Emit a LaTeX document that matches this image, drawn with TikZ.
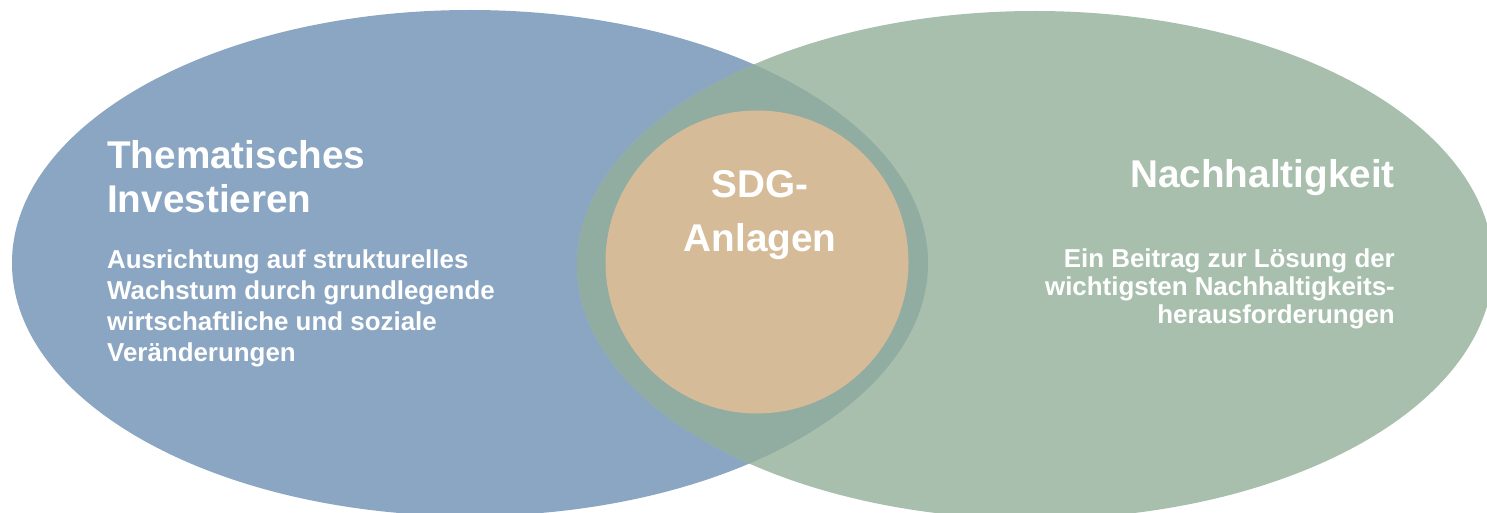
\documentclass[tikz,border=0pt]{standalone}
\usepackage{fontspec}
\setmainfont{Liberation Sans}
\definecolor{leftblue}{RGB}{138,166,194}
\definecolor{rightgreen}{RGB}{168,191,174}
\definecolor{overlapgreen}{RGB}{145,172,161}
\definecolor{tan}{RGB}{213,187,152}
\begin{document}
\begin{tikzpicture}[x=1pt,y=-1pt,
  titletext/.style={inner sep=0pt,text=white,font=\fontsize{38.7}{45}\selectfont\bfseries},
  bodytext/.style={inner sep=0pt,text=white},
]
\useasboundingbox (0,0) rectangle (1487,513);
\fill[leftblue] (470,263) ellipse [x radius=458, y radius=253];
\fill[rightgreen] (1035,265) ellipse [x radius=458, y radius=254];
\begin{scope}
  \clip (470,263) ellipse [x radius=458, y radius=253];
  \fill[overlapgreen] (1035,265) ellipse [x radius=458, y radius=254];
\end{scope}
\fill[tan] (757,262) circle [radius=151.5];

\node[titletext, anchor=base west] (t1) at (107,168) {Thematisches};
\node[titletext, anchor=base west] (t2) at (107,212) {Investieren};
\node[bodytext, anchor=base west] (b1) at (107,268) {\fontsize{25.9}{31.3}\selectfont\bfseries
  \begin{tabular}[t]{@{}l@{}}Ausrichtung auf strukturelles\\Wachstum durch grundlegende\\wirtschaftliche und soziale\\Veränderungen\end{tabular}};

\node[titletext, anchor=base] (s1) at (760,197) {SDG-};
\node[titletext, anchor=base] (s2) at (760,251) {Anlagen};

\node[titletext, anchor=base east] (n1) at (1395,188) {Nachhaltigkeit};
\node[bodytext, anchor=base east] (n2) at (1395,267) {\fontsize{25.9}{28.4}\selectfont\bfseries
  \begin{tabular}[t]{@{}r@{}}Ein Beitrag zur Lösung der\\wichtigsten Nachhaltigkeits-\\herausforderungen\end{tabular}};
\end{tikzpicture}
\end{document}
